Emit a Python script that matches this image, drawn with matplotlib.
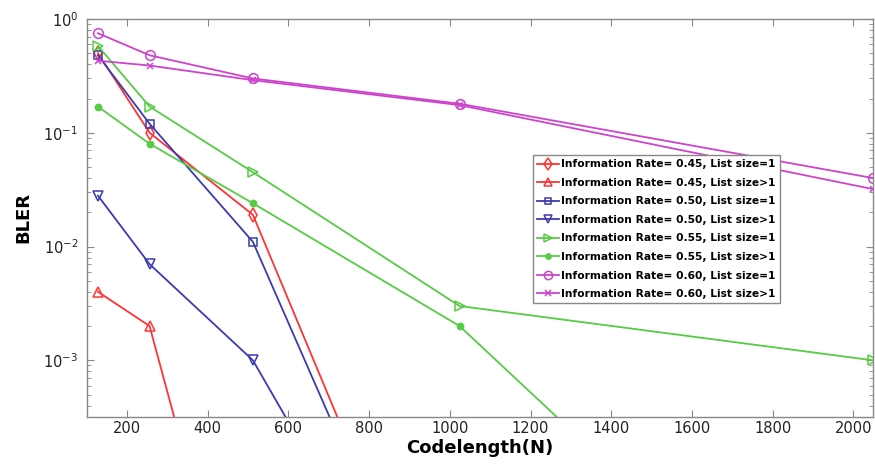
import matplotlib
matplotlib.use("Agg")
import matplotlib.pyplot as plt
from matplotlib.ticker import LogLocator, NullFormatter, FixedLocator

N = [128, 256, 512, 1024, 2048]

r45_l1 = [0.50, 0.10, 0.019, 8.5e-7]
r45_lg = [0.004, 0.002, 8.7e-7]
r50_l1 = [0.48, 0.12, 0.011, 7.8e-7]
r50_lg = [0.028, 0.007, 0.001, 7e-7]
r55_l1 = [0.58, 0.17, 0.045, 0.003, 0.001]
r55_lg = [0.17, 0.08, 0.024, 0.002, 8e-7]
r60_l1 = [0.75, 0.48, 0.30, 0.18, 0.04]
r60_lg = [0.43, 0.39, 0.29, 0.175, 0.032]

labels = [
    "Information Rate= 0.45, List size=1",
    "Information Rate= 0.45, List size>1",
    "Information Rate= 0.50, List size=1",
    "Information Rate= 0.50, List size>1",
    "Information Rate= 0.55, List size=1",
    "Information Rate= 0.55, List size>1",
    "Information Rate= 0.60, List size=1",
    "Information Rate= 0.60, List size>1",
]

red = "#ff3333"
blue = "#3b3bb0"
green = "#55cc44"
mag = "#cc44cc"

series = [
    (r45_l1, red, "d", "none"),
    (r45_lg, red, "^", "none"),
    (r50_l1, blue, "s", "none"),
    (r50_lg, blue, "v", "none"),
    (r55_l1, green, ">", "none"),
    (r55_lg, green, "o", "full"),
    (r60_l1, mag, "o", "none"),
    (r60_lg, mag, "x", "none"),
]

fig = plt.figure(figsize=(8.75, 4.75), dpi=100)
ax = fig.add_axes([0.099, 0.123, 0.8985, 0.837])

for (vals, col, mk, fs), lab in zip(series, labels):
    ms = 7
    if mk == "o" and fs == "full":
        ms = 4.5
    if mk == "s":
        ms = 5.2
    if mk == "x":
        ms = 4.5
    ax.plot(N[:len(vals)], vals, color=col, marker=mk, fillstyle=fs,
            markersize=ms, linewidth=1.3, markeredgewidth=1.1, label=lab,
            clip_on=True)

ax.set_yscale("log")
ax.set_xlim(100, 2048)
ax.set_ylim(3.2e-4, 1)
ax.set_xticks([200, 400, 600, 800, 1000, 1200, 1400, 1600, 1800, 2000])
ax.yaxis.set_major_locator(FixedLocator([1e-3, 1e-2, 1e-1, 1]))
ax.yaxis.set_minor_locator(LogLocator(base=10, subs=range(2, 10)))
ax.yaxis.set_minor_formatter(NullFormatter())

for s in ax.spines.values():
    s.set_color("#888888")
    s.set_linewidth(1.0)
ax.tick_params(which="both", direction="in", top=True, right=True,
               colors="#888888", labelcolor="#222222", labelsize=10.5)
ax.tick_params(which="major", length=5)
ax.tick_params(which="minor", length=3)
ax.tick_params(axis="y", which="major", pad=6)

ax.set_xlabel("Codelength(N)", fontsize=13, fontweight="bold", labelpad=2)
ax.set_ylabel("BLER", fontsize=13, fontweight="bold", labelpad=8)

leg = ax.legend(loc="upper left", bbox_to_anchor=(0.5677, 0.658),
                prop={"weight": "bold", "size": 7.7}, frameon=True,
                fancybox=False, edgecolor="#888888", framealpha=1,
                handlelength=2.0, handletextpad=0.25, labelspacing=0.8,
                borderpad=0.4, borderaxespad=0, markerscale=0.85)
leg.get_frame().set_linewidth(1.0)

fig.savefig("out.png", dpi=100)
